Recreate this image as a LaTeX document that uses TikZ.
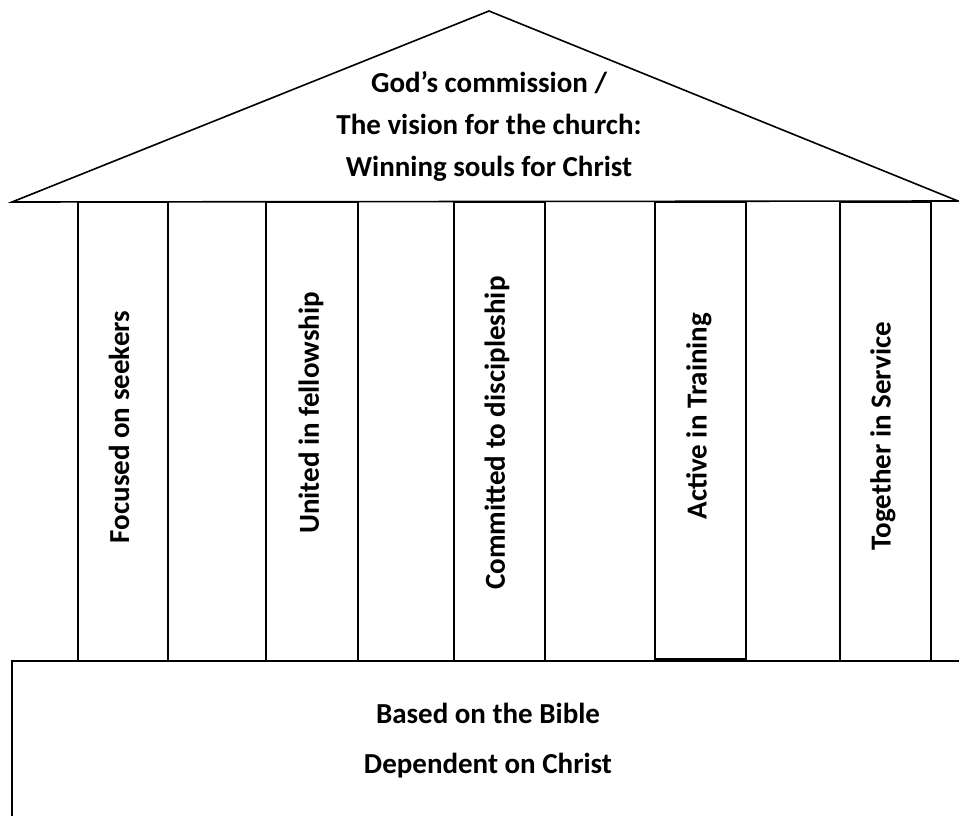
\documentclass[tikz,border=0pt]{standalone}
\usepackage{fontspec}
\setmainfont{Carlito}
\tikzset{
  outline/.style={draw=black, line width=1.6pt, line join=miter},
  label/.style={font=\bfseries\fontsize{29}{42}\selectfont, align=center, inner sep=0pt},
  pillartext/.style={label, rotate=90}
}
\begin{document}
\begin{tikzpicture}[x=1pt,y=-1pt]
\useasboundingbox (0,0) rectangle (959,816);
% roof
\draw[outline] (12,202) -- (489,11) -- (958,201) -- cycle;
% pillars
\draw[outline] (78,202) rectangle (168,661);
\draw[outline] (266,202) rectangle (358,661);
\draw[outline] (454,202) rectangle (545,661);
\draw[outline] (655,202) rectangle (746,659);
\draw[outline] (840,202) rectangle (931,661);
% base
\draw[outline] (12,818) -- (12,661) -- (960,661);
% texts
\node[label] (roof) at (489,126) {God’s commission /\\The vision for the church:\\Winning souls for Christ};
\node[pillartext] (p1) at (119,427) {Focused on seekers};
\node[pillartext] (p2) at (311,413) {United in fellowship};
\node[pillartext] (p3) at (497,433) {Committed to discipleship};
\node[pillartext] (p4) at (699,416) {Active in Training};
\node[pillartext] (p5) at (883,436) {Together in Service};
\node[label, font=\bfseries\fontsize{29}{50}\selectfont] (base) at (488,741) {Based on the Bible\\Dependent on Christ};
\end{tikzpicture}
\end{document}
